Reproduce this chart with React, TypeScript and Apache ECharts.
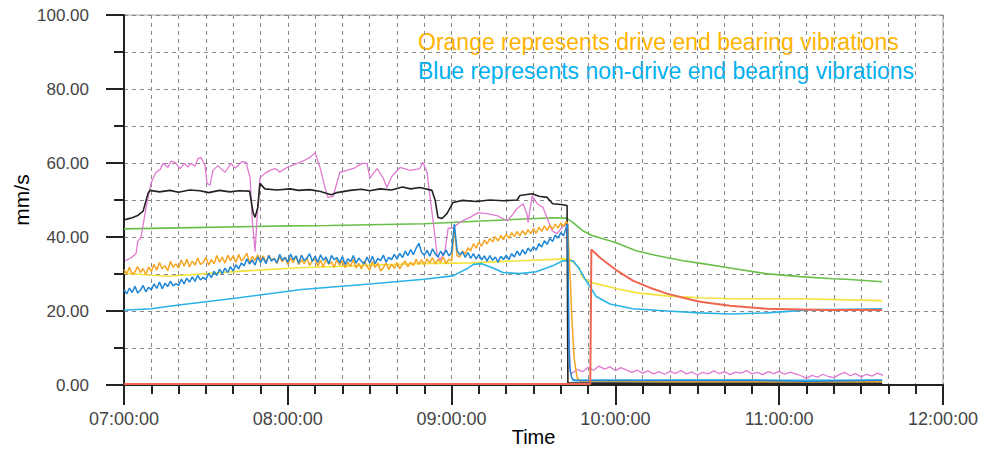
import React, { useEffect, useRef } from "react";
import * as echarts from "echarts";

// x values are minutes after 07:00
const timeLabels = ["07:00:00", "08:00:00", "09:00:00", "10:00:00", "11:00:00", "12:00:00"];
const yTickLabels = ["0.00", "20.00", "40.00", "60.00", "80.00", "100.00"];

// Orange (drive end) – one reading per minute from 07:00
const orangeMinute = [
  31.2, 30.1, 31.8, 29.9, 30.6, 32.0, 30.4, 31.5, 29.8, 31.9,
  30.7, 32.6, 31.0, 33.1, 31.4, 32.2, 30.9, 33.4, 31.8, 32.7,
  31.6, 33.8, 32.1, 34.0, 31.9, 33.5, 32.4, 34.3, 32.6, 33.1,
  34.5, 32.4, 33.9, 32.8, 35.0, 33.2, 34.6, 32.9, 35.1, 33.6,
  34.9, 33.1, 35.3, 33.5, 34.4, 35.6, 33.0, 34.8, 33.7, 35.2,
  33.4, 34.9, 33.0, 35.1, 33.8, 34.2, 32.9, 34.7, 33.3, 34.5,
  32.6, 34.3, 33.1, 34.8, 32.5, 33.9, 32.8, 34.4, 32.3, 33.6,
  34.1, 32.2, 33.7, 31.9, 34.0, 32.6, 33.3, 31.8, 33.9, 32.4,
  33.6, 31.7, 33.2, 32.0, 34.0, 31.6, 32.9, 31.4, 33.5, 32.1,
  31.0, 33.4, 31.8, 32.9, 30.8, 31.7, 33.0, 31.2, 32.6, 31.5,
  33.1, 31.4, 32.7, 33.5, 31.9, 33.2, 32.3, 34.0, 32.6, 33.8,
  32.5, 34.1, 33.0, 34.4, 32.7, 33.9, 33.2, 34.6, 32.8, 34.0,
  33.5, 42.5, 35.0, 34.6, 36.2, 35.4, 37.1, 36.3, 38.2, 37.0,
  38.6, 37.5, 39.2, 38.1, 39.6, 38.7, 40.1, 38.9, 40.4, 39.3,
  40.8, 39.6, 41.2, 40.1, 41.5, 40.3, 41.7, 40.6, 42.0, 40.9,
  42.3, 41.0, 42.6, 41.5, 43.0, 41.8, 43.2, 42.1, 43.5, 42.4,
  43.8, 42.9, 44.2,
];
const orangeTail = [
  [162.6, 43.5], [163, 35], [163.5, 28], [164, 19], [164.5, 12], [165, 6.5],
  [166, 2.0], [167, 1.1], [200, 0.9], [277.7, 0.9],
];

// Blue (non-drive end) – one reading per minute from 07:00
const blueMinute = [
  25.8, 24.6, 26.2, 25.0, 26.7, 24.9, 25.6, 26.9, 25.2, 26.4,
  25.7, 27.3, 26.1, 27.8, 26.0, 27.5, 26.6, 28.1, 26.8, 27.4,
  26.9, 28.6, 27.3, 28.9, 27.8, 29.2, 28.0, 29.6, 28.4, 29.1,
  28.5, 30.2, 29.0, 30.7, 29.6, 31.3, 30.1, 31.6, 30.4, 32.0,
  30.8, 32.5, 31.4, 33.0, 32.2, 34.1, 32.7, 33.8, 32.4, 34.6,
  33.1, 34.4, 32.8, 35.0, 33.5, 34.2, 33.0, 35.3, 33.7, 34.5,
  33.2, 35.4, 33.8, 34.9, 32.9, 35.1, 33.6, 34.3, 35.5, 33.4,
  34.8, 33.1, 35.2, 33.7, 34.6, 32.8, 35.0, 33.9, 34.4, 33.0,
  34.7, 32.6, 34.1, 33.3, 35.0, 32.9, 34.3, 33.4, 32.7, 34.6,
  33.0, 34.8, 32.8, 34.2, 33.6, 35.1, 33.2, 34.5, 33.9, 35.3,
  34.0, 35.6, 34.4, 36.2, 35.0, 36.6, 35.2, 37.0, 38.3, 35.9,
  35.1, 36.4, 34.8, 36.8, 35.5, 34.6, 36.2, 35.0, 36.5, 34.9,
  35.8, 43.5, 36.4, 35.2, 36.0, 34.5, 35.8, 34.2, 35.5, 34.0,
  35.3, 33.8, 34.9, 33.5, 35.0, 33.7, 34.6, 33.2, 34.8, 33.9,
  35.1, 33.9, 35.5, 34.6, 36.2, 35.0, 36.6, 35.4, 37.0, 36.1,
  37.4, 36.5, 38.2, 37.3, 39.0, 38.0, 39.6, 38.8, 40.5, 39.7,
  41.2, 40.3, 42.6,
];
const blueTail = [
  [162.5, 43.5], [163, 11], [163.3, 4.6], [164, 1.9], [165, 1.2],
  [230, 1.3], [250, 1.0], [277.7, 1.3],
];

const pinkPoints = [
  [0.5, 33.6], [2.6, 34.4], [4.4, 35.5], [5.1, 39], [6.2, 39.8], [8.1, 48], [9.9, 54.5],
  [11.7, 57.5], [13.2, 58.2], [14.3, 59.9], [16.1, 58.8], [17.2, 60.5], [18.7, 60.2],
  [20.5, 58.5], [22.3, 59.9], [23.4, 58.9], [24.5, 59.9], [26, 59.1], [27.1, 61.2],
  [28.2, 61.5], [29.7, 59.3], [30.4, 54.5], [31.5, 54], [32.6, 58], [34.4, 59.3],
  [35.9, 58.2], [37, 57.5], [39.2, 59.9], [40.7, 58.6], [41.8, 59.3], [43.2, 60.4],
  [44.7, 60.2], [46.2, 56], [46.9, 45.3], [48, 36.0], [48.7, 44.4], [49.8, 56],
  [51.6, 57.2], [53.5, 58.0], [55.3, 58.5], [57.1, 57.6], [59.7, 58.8], [62.6, 59.6],
  [66.3, 60.8], [68.1, 61.5], [70, 62.8], [71.8, 58.8], [73.6, 53.4], [74.7, 50.7],
  [76.6, 51], [79.1, 57.5], [81.7, 58], [84.6, 58.7], [87.2, 59.9], [89, 59.9],
  [90.1, 56], [92.7, 58.5], [94.9, 56], [96.3, 53.4], [98.2, 56.5], [101.1, 58.8],
  [104.8, 58], [108.4, 58.5], [109.5, 60.2], [111, 57.5], [112.1, 50.7], [113.2, 44.4],
  [114.7, 35.0], [115.8, 33.8], [117.6, 36.3], [118.7, 42.3], [120.5, 42.5],
  [123.1, 44], [126.7, 45.3], [129.7, 46.6], [133, 46.3], [136.6, 45.8], [140.3, 44.4],
  [142.1, 45.8], [144, 47.7], [146.2, 49], [147.6, 46.3], [148, 43.9], [149.5, 51.2],
  [151.3, 49], [153.5, 48], [154.9, 45.3], [156.8, 41.7], [158.6, 40.9], [160.4, 42.5],
  [162.3, 43.6], [162.8, 20], [163.4, 3.8],
];
// pink after shutdown, every 2 minutes from 164
const pinkTailStart = 164;
const pinkTail = [
  3.1, 4.2, 3.6, 4.8, 4.0, 5.1, 4.3, 4.9, 3.9, 4.7, 4.1, 3.4, 4.0, 3.2, 3.8, 3.0,
  3.6, 2.9, 3.7, 3.1, 3.9, 3.0, 3.5, 2.7, 3.4, 3.0, 3.8, 3.1, 3.6, 2.8, 3.5, 3.2,
  3.9, 3.0, 3.4, 2.8, 3.6, 3.1, 3.7, 2.9, 3.5, 3.0, 2.5, 1.8, 2.6, 2.1, 2.9, 2.3,
  2.0, 2.8, 3.4, 2.5, 3.1, 2.2, 2.9, 2.4, 3.2, 2.6,
];

const blackPoints = [
  [0.4, 44.7], [3, 45.2], [5, 45.8], [7, 47], [8.8, 51.8], [9.5, 52.6], [13, 52.2],
  [16.8, 52.6], [20, 52.1], [24, 52.7], [27.8, 52.5], [31, 52.0], [35, 52.6],
  [38.8, 52.2], [42, 52.5], [46, 52.4], [47.3, 46.6], [48, 45.3], [49, 48], [49.8, 54.5],
  [51.6, 53], [56, 52.7], [60.8, 53], [64, 52.6], [68, 52.8], [72, 52.3], [74, 51.8],
  [76, 51.4], [78, 52], [82.8, 52.6], [87, 52.9], [90, 52.5], [93.8, 53], [98, 52.7],
  [102, 53.5], [105, 53.0], [108.4, 53.4], [112.8, 52.6], [114, 49.9], [115, 45.3],
  [116.5, 45], [118.3, 46.3], [120.5, 49.3], [124, 49.9], [129, 49.6], [134, 50],
  [139, 49.8], [144, 50], [145, 51.2], [149.5, 51.7], [152, 51.0], [155, 50.7],
  [157, 49], [160, 48.8], [162.3, 48.5], [162.6, 0.5], [277.7, 0.5],
];

const greenPoints = [
  [0, 42.2], [30, 42.6], [60, 43.0], [75, 43.1], [90, 43.3], [110, 43.6], [133, 44.4],
  [157, 45.2], [162, 45.1], [164.5, 43.9], [168, 41.7], [171.5, 40.4], [180, 38.5],
  [187.6, 36.3], [195, 35], [204.8, 33.6], [212, 32.8], [222, 31.6], [235, 30.1],
  [247.6, 29.3], [259.7, 28.7], [266, 28.5], [277.7, 27.9],
];

const yellowPoints = [
  [0, 30.2], [16, 29.4], [46, 30.9], [64, 31.7], [108, 32.8], [127, 33], [145, 33.6],
  [162, 34.1], [163.4, 34], [166.7, 31.7], [168.1, 29], [171.8, 27.6], [180.6, 26],
  [187.9, 24.9], [198.9, 24.1], [211, 23.6], [222, 23.3], [247.6, 23.3], [277.7, 22.8],
];

const cyanPoints = [
  [0, 20.2], [10, 20.6], [20, 21.6], [40, 23.4], [65, 25.8], [90, 27.3], [110, 28.6],
  [120.5, 29.5], [125.6, 31.4], [128, 32.6], [131, 32.8], [135, 31.7], [138.8, 30.4],
  [145, 30.1], [151, 30.6], [157, 32.2], [160.8, 33.6], [164.5, 33.6], [166.7, 31.5],
  [169, 28.5], [173, 23.9], [178, 21.9], [186.4, 20.6], [198.9, 20], [211, 19.5],
  [222, 19.2], [235.5, 19.5], [251, 20.3], [277.7, 20.6],
];
const cyanLowPoints = [[164, 1.3], [277.7, 1.3]];

const redPoints = [
  [0, 0.3], [170.8, 0.3], [171.2, 36.6], [174.4, 34.4], [180.6, 30.9], [186.4, 28.2],
  [192.6, 26.3], [198.9, 24.7], [204.8, 23.6], [211, 22.5], [222, 21.4], [235.5, 20.6],
  [257.6, 20.3], [277.7, 20.3],
];

const noteOrange = "Orange represents drive end bearing vibrations";
const noteBlue = "Blue represents non-drive end bearing vibrations";

export default function App() {
  const ref = useRef<HTMLDivElement>(null);
  useEffect(() => {
    if (!ref.current) return;
    const chart = echarts.init(ref.current, undefined, { renderer: "svg" });
    const dash = { type: [4, 4] as any, color: "#8a8a8a", width: 1 };
    const line = (name: string, data: any[], color: string, width = 1.5, z = 2) => ({
      name,
      type: "line",
      data,
      showSymbol: false,
      symbol: "none",
      lineStyle: { color, width },
      itemStyle: { color },
      z,
      silent: true,
    });
    const orangeData = orangeMinute.map((v, i) => [i, v]).concat(orangeTail as any);
    const blueData = blueMinute.map((v, i) => [i, v]).concat(blueTail as any);
    const pinkData = (pinkPoints as any[]).concat(pinkTail.map((v, i) => [pinkTailStart + i * 2, v]));
    const font = "'Liberation Sans', Arial, sans-serif";
    chart.setOption({
      animation: false,
      grid: {
        left: 124, right: 43, top: 15, bottom: 67,
        outerBoundsMode: "none",
        containLabel: false,
        show: true, borderColor: "#a0a0a0", borderWidth: 1,
      },
      graphic: [
        { type: "text", x: 418, y: 42, style: { text: noteOrange, fill: "#ffb400", font: `23px ${font}`, textVerticalAlign: "middle", verticalAlign: "middle" } },
        { type: "text", x: 418, y: 71, style: { text: noteBlue, fill: "#00b0f0", font: `23px ${font}`, textVerticalAlign: "middle", verticalAlign: "middle" } },
      ],
      xAxis: {
        type: "value",
        min: 0, max: 300, interval: 60,
        offset: 3,
        name: "Time",
        nameLocation: "middle",
        nameGap: 39,
        nameMoveOverlap: false,
        nameTextStyle: { fontSize: 20, color: "#000", fontFamily: font },
        axisLine: { show: true, lineStyle: { color: "#222", width: 2 } },
        axisTick: { show: true, length: 20, lineStyle: { color: "#222", width: 2 } },
        minorTick: { show: true, splitNumber: 6, length: 9, lineStyle: { color: "#222", width: 2 } },
        splitLine: { show: true, lineStyle: dash },
        minorSplitLine: { show: true, lineStyle: dash },
        axisLabel: {
          margin: 22, fontSize: 18, color: "#444", fontFamily: font,
          formatter: (v: number) => timeLabels[Math.round(v / 60)] ?? "",
        },
      },
      yAxis: {
        type: "value",
        min: 0, max: 100, interval: 20,
        offset: 6,
        name: "mm/s",
        nameLocation: "middle",
        nameRotate: 90,
        nameGap: 86,
        nameMoveOverlap: false,
        nameTextStyle: { fontSize: 21, color: "#000", fontFamily: font },
        axisLine: { show: true, lineStyle: { color: "#222", width: 2 } },
        axisTick: { show: true, length: 18, lineStyle: { color: "#222", width: 2 } },
        minorTick: { show: true, splitNumber: 2, length: 10, lineStyle: { color: "#222", width: 2 } },
        splitLine: { show: true, lineStyle: dash },
        minorSplitLine: { show: true, lineStyle: dash },
        axisLabel: {
          margin: 29, fontSize: 17, color: "#444", fontFamily: font,
          formatter: (v: number) => yTickLabels[Math.round(v / 20)] ?? "",
        },
      },
      series: [
        line("Green", greenPoints, "#6abf4b", 1.6, 2),
        line("Yellow", yellowPoints, "#f2e33a", 1.6, 2),
        line("Light blue", cyanPoints, "#2ab3e6", 1.6, 2),
        line("Light blue low", cyanLowPoints, "#5cc6ee", 2, 2),
        line("Pink", pinkData, "#e07ad0", 1.3, 3),
        line("Black", blackPoints, "#222222", 1.6, 4),
        line("Orange", orangeData, "#f5a623", 1.5, 5),
        line("Blue", blueData, "#1f86d6", 1.5, 6),
        line("Red", redPoints, "#ef6650", 2, 7),
      ],
    });
    return () => chart.dispose();
  }, []);
  return <div ref={ref} style={{ position: "absolute", left: 0, top: 0, width: 986, height: 452, background: "#fff" }} />;
}
